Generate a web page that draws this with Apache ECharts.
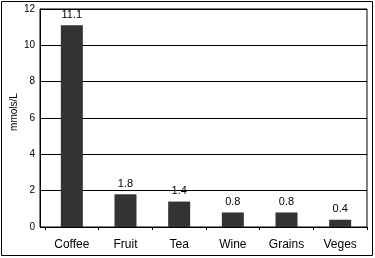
<!DOCTYPE html>
<html>
<head>
<meta charset="utf-8">
<script src="https://cdn.jsdelivr.net/npm/echarts@6/dist/echarts.min.js"></script>
<style>
html,body{margin:0;padding:0;background:#fff;}
#chart{width:375px;height:258px;}
</style>
</head>
<body>
<div id="chart"></div>
<script>
var categories = ['Coffee', 'Fruit', 'Tea', 'Wine', 'Grains', 'Veges'];
var values = [11.1, 1.8, 1.4, 0.8, 0.8, 0.4];
var yTickLabels = ['0', '2', '4', '6', '8', '10', '12'];
var yTitle = 'mmols/L';

var FONT = '"Liberation Sans", Arial, sans-serif';
var chart = echarts.init(document.getElementById('chart'), null, {renderer: 'canvas'});
chart.setOption({
  backgroundColor: '#fff',
  animation: false,
  grid: [
    {left: 45, right: 8, top: 9, bottom: 31, containLabel: false},
    {left: 40, right: 8, top: 9, bottom: 31, containLabel: false, show: true, borderColor: '#000', borderWidth: 1, backgroundColor: 'transparent'}
  ],
  xAxis: [
    {
      type: 'category', gridIndex: 0, data: categories,
      axisLine: {show: true, lineStyle: {color: '#000', width: 1}},
      axisTick: {show: true, length: 3, inside: false, lineStyle: {color: '#000'}},
      axisLabel: {color: '#000', fontSize: 12, fontFamily: FONT, margin: 12}
    },
    {type: 'value', gridIndex: 1, show: false, min: 0, max: 1}
  ],
  yAxis: [
    {type: 'value', gridIndex: 0, min: 0, max: 12, interval: 2, show: false},
    {
      type: 'value', gridIndex: 1, min: 0, max: 12, interval: 2,
      axisLine: {show: true, lineStyle: {color: '#000', width: 1}},
      axisTick: {show: false},
      splitLine: {show: true, lineStyle: {color: '#000', width: 1}},
      axisLabel: {
        color: '#000', fontSize: 10, fontFamily: FONT, margin: 5,
        formatter: function (v) { return yTickLabels[Math.round(v / 2)]; }
      }
    }
  ],
  graphic: [
    {type: 'rect', shape: {x: 1.5, y: 1.5, width: 371, height: 254}, style: {fill: 'none', stroke: '#000', lineWidth: 1}, silent: true, z: 100},
    {type: 'text', x: 14, y: 112, rotation: Math.PI / 2, style: {text: yTitle, fill: '#000', font: '10px ' + FONT, textAlign: 'center', textVerticalAlign: 'middle'}}
  ],
  series: [
    {
      type: 'bar', xAxisIndex: 0, yAxisIndex: 0, data: values,
      barWidth: 22,
      itemStyle: {color: '#333333'},
      label: {show: true, position: 'top', distance: 5, color: '#000', fontSize: 11, fontFamily: FONT}
    }
  ]
});
</script>
</body>
</html>
